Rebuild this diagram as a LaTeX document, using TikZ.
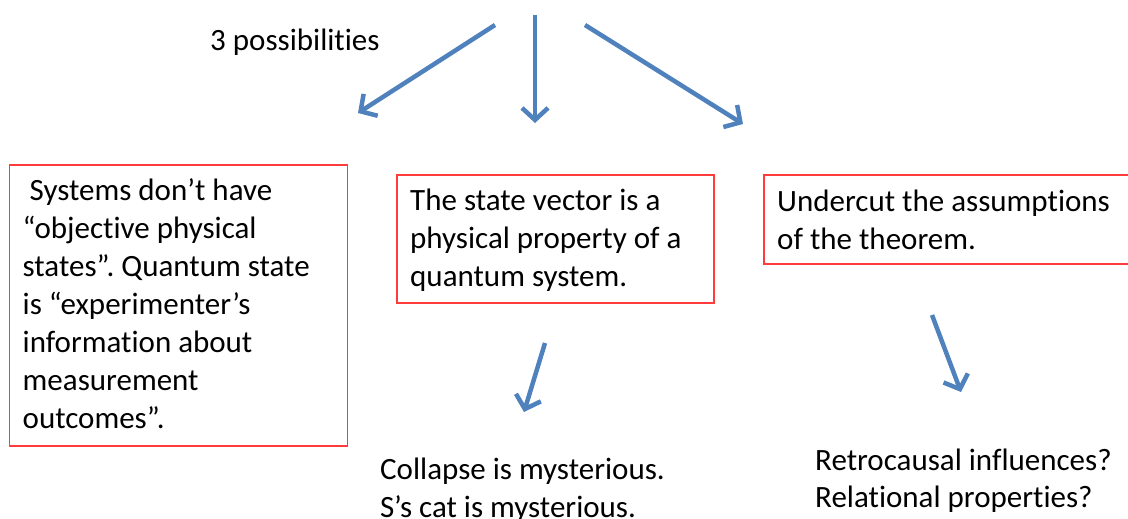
\documentclass[tikz,border=0pt]{standalone}
\usepackage{fontspec}
\setmainfont[Ligatures=NoCommon]{Carlito}
\usetikzlibrary{arrows.meta}
\definecolor{arrowblue}{HTML}{4F81BD}
\definecolor{boxred}{HTML}{FF3B3B}
\frenchspacing
\tikzset{
  % multi-line texts are placed by the baseline of their last line
  txt/.style={anchor=base west, inner sep=0pt, align=left,
    font=\fontsize{31}{38}\selectfont},
  box/.style={draw=boxred, line width=1.5pt, anchor=north west,
    inner sep=0pt},
  flow/.style={draw=arrowblue, line width=4.5pt,
    -{Straight Barb[length=12pt,width=26pt,line width=4.5pt]}},
}
\begin{document}
\begin{tikzpicture}[x=1pt,y=-1pt]
\useasboundingbox (0,0) rectangle (1128,519);

% the three boxes
\node[box, minimum width=338pt, minimum height=281pt] (b1) at (8.5,164) {};
\node[box, minimum width=317pt, minimum height=128pt] (b2) at (396,174) {};
\node[box, minimum width=380pt, minimum height=89pt] (b3) at (763,174) {};

% texts
\node[txt] (lab) at (210,51) {3 possibilities};
\node[txt] (t1) at (22.5,428) {\ Systems don’t have\\“objective physical\\states”. Quantum state\\is “experimenter’s\\information about\\measurement\\outcomes”.};
\node[txt] (t2) at (410,286) {The state vector is a\\physical property of a\\quantum system.};
\node[txt] (t3) at (777,249) {Undercut the assumptions\\of the theorem.};
\node[txt] (t4) at (380,517) {Collapse is mysterious.\\S’s cat is mysterious.};
\node[txt, font=\fontsize{31}{37}\selectfont] (t5) at (815,507) {Retrocausal influences?\\Relational properties?};

% arrow end points
\coordinate (a1s) at (495,25);  \coordinate (a1e) at (358,113);
\coordinate (a2s) at (535,15);  \coordinate (a2e) at (535,123);
\coordinate (a3s) at (585,25);  \coordinate (a3e) at (743,124);
\coordinate (a4s) at (545,343); \coordinate (a4e) at (524,412);
\coordinate (a5s) at (932,315); \coordinate (a5e) at (961,392);

\draw[flow] (a1s) -- (a1e);
\draw[flow] (a2s) -- (a2e);
\draw[flow] (a3s) -- (a3e);
\draw[flow] (a4s) -- (a4e);
\draw[flow] (a5s) -- (a5e);
\end{tikzpicture}
\end{document}
